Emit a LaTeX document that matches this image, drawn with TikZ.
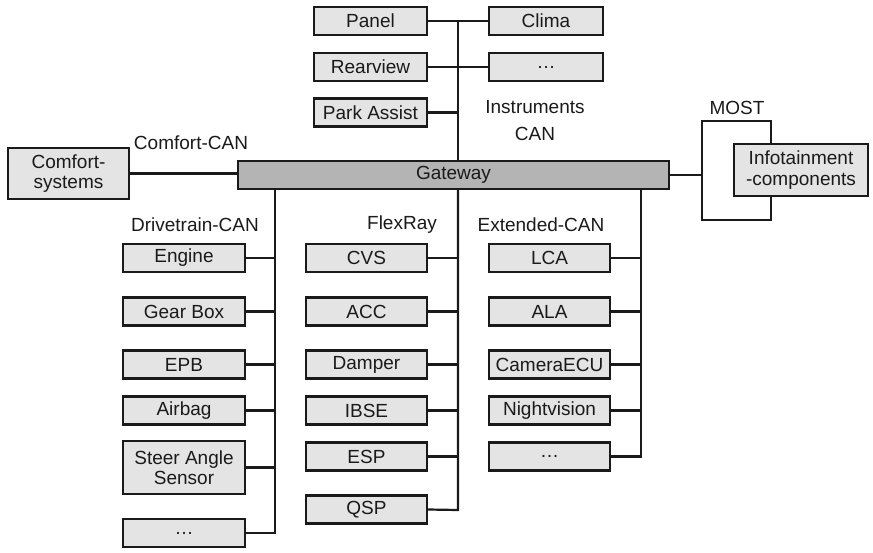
\documentclass[tikz,border=0pt]{standalone}
\usepackage{fontspec}
\setmainfont{Liberation Sans}
\definecolor{boxgray}{HTML}{E4E4E4}
\definecolor{gwgray}{HTML}{B4B4B4}
\definecolor{ink}{HTML}{1A1A1A}
\tikzset{
  box/.style={draw=ink, line width=2.4pt, fill=boxgray, inner sep=0pt, align=center,
    minimum height=28pt, text=ink, font=\fontsize{19}{20.5}\selectfont},
  gwbox/.style={box, fill=gwgray},
  lbl/.style={inner sep=0pt, align=center, text=ink, font=\fontsize{19}{27}\selectfont},
  bus/.style={draw=ink, line width=2.2pt}
}
\begin{document}
\begin{tikzpicture}[x=1pt,y=-1pt]
\useasboundingbox (0,0) rectangle (873,552);
% Gateway
\node[gwbox, minimum width=431] (gw) at (453.5,175) {Gateway};
% Instruments CAN
\coordinate (inTop) at (458,21);
\node[box, minimum width=113] (panel) at (370.5,21) {Panel};
\node[box, minimum width=114] (clima) at (546,21) {Clima};
\node[box, minimum width=113] (rear) at (370.5,67) {Rearview};
\node[box, minimum width=114] (idots) at (546,67) {\dots};
\node[box, minimum width=113] (park) at (370.5,112.5) {Park Assist};
\node[lbl] (inlbl) at (535,121) {Instruments\\CAN};
\draw[bus] (inTop) -- (inTop |- gw.north);
\draw[bus] (panel.east) -- (clima.west);
\draw[bus] (rear.east) -- (idots.west);
\draw[bus] (park.east) -- (park.east -| inTop);
% Comfort
\node[box, minimum width=121, minimum height=51] (comf) at (68.5,173.5) {Comfort-\\systems};
\node[lbl] (comflbl) at (191,143) {Comfort-CAN};
\draw[bus] (comf.east) -- (comf.east -| gw.west);
% MOST
\coordinate (mostL) at (702,121);
\coordinate (mostR) at (771,220);
\draw[bus] (mostL) rectangle (mostR);
\draw[bus] (gw.east) -- (gw.east -| mostL);
\node[lbl] (mostlbl) at (737,108) {MOST};
\node[box, minimum width=134, minimum height=52] (info) at (801,170) {Infotainment\\-components};
% Drivetrain
\coordinate (dt) at (275,533);
\node[lbl] (dtlbl) at (195,225) {Drivetrain-CAN};
\node[box, minimum width=122] (engine) at (184,258) {Engine};
\node[box, minimum width=122] (gear) at (184,311.5) {Gear Box};
\node[box, minimum width=122] (epb) at (184,364.5) {EPB};
\node[box, minimum width=122] (airbag) at (184,410.5) {Airbag};
\node[box, minimum width=122, minimum height=53] (steer) at (184,467.5) {Steer Angle\\Sensor};
\node[box, minimum width=122] (ddots) at (184,533) {\dots};
\draw[bus] (dt |- gw.south) -- (dt) -- (ddots.east);
\foreach \n in {engine,gear,epb,airbag,steer} \draw[bus] (\n.east) -- (\n.east -| dt);
% FlexRay
\coordinate (fr) at (458,510);
\node[lbl] (frlbl) at (402,225) {FlexRay};
\node[box, minimum width=121] (cvs) at (366.5,258) {CVS};
\node[box, minimum width=121] (acc) at (366.5,311.5) {ACC};
\node[box, minimum width=121] (damper) at (366.5,364.5) {Damper};
\node[box, minimum width=121] (ibse) at (366.5,410.5) {IBSE};
\node[box, minimum width=121] (esp) at (366.5,456.5) {ESP};
\node[box, minimum width=121] (qsp) at (366.5,509.5) {QSP};
\draw[bus] (fr |- gw.south) -- (fr) -- (qsp.east);
\foreach \n in {cvs,acc,damper,ibse,esp} \draw[bus] (\n.east) -- (\n.east -| fr);
% Extended
\coordinate (ex) at (641,456.5);
\node[lbl] (exlbl) at (541,225) {Extended-CAN};
\node[box, minimum width=121] (lca) at (549.5,258) {LCA};
\node[box, minimum width=121] (ala) at (549.5,311.5) {ALA};
\node[box, minimum width=121] (cam) at (549.5,364.5) {CameraECU};
\node[box, minimum width=121] (night) at (549.5,410.5) {Nightvision};
\node[box, minimum width=121] (edots) at (549.5,456.5) {\dots};
\draw[bus] (ex |- gw.south) -- (ex) -- (edots.east);
\foreach \n in {lca,ala,cam,night} \draw[bus] (\n.east) -- (\n.east -| ex);
\end{tikzpicture}
\end{document}
